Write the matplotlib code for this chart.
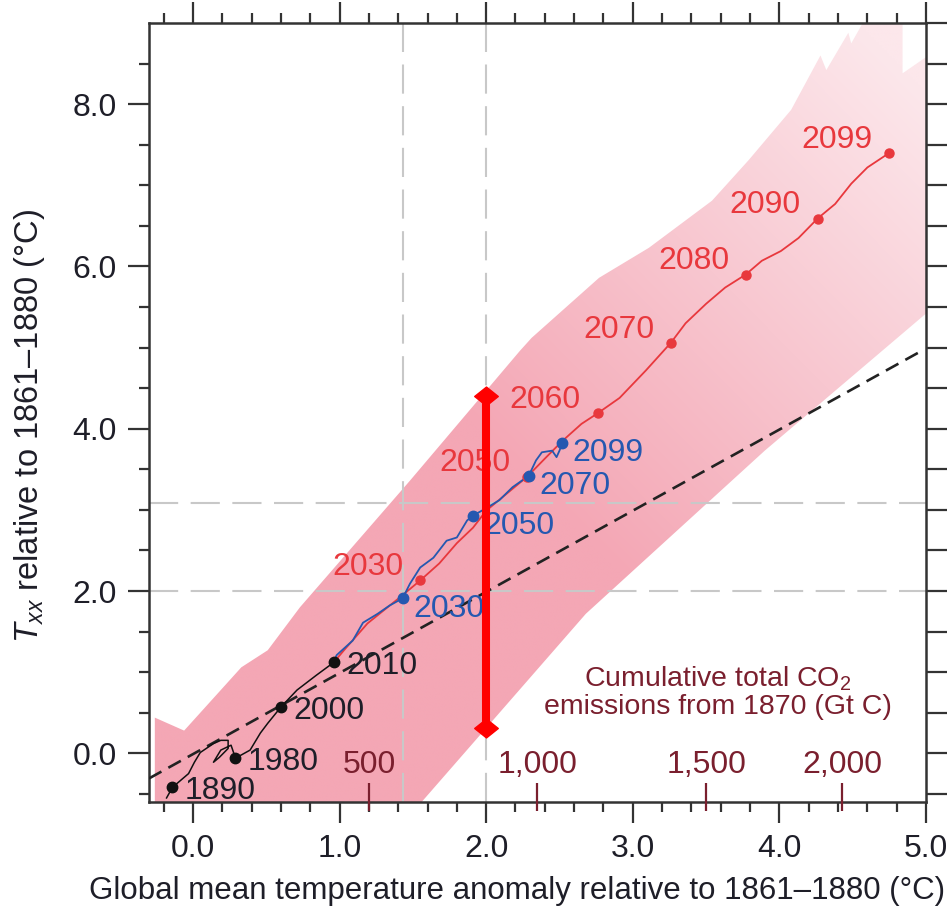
import numpy as np
import matplotlib
matplotlib.use("Agg")
import matplotlib.pyplot as plt
from matplotlib.patches import Polygon
from matplotlib.path import Path

plt.rcParams['font.family'] = ['Liberation Sans', 'DejaVu Sans']
plt.rcParams['mathtext.fontset'] = 'custom'
plt.rcParams['mathtext.rm'] = 'Liberation Sans'
plt.rcParams['mathtext.it'] = 'Liberation Sans:italic'

# --- data ------------------------------------------------------------------
# model spread band (upper edge left->right, then lower edge right->left)
band_x = [-0.26, -0.26, -0.06, 0.33, 0.51, 0.73, 1.48, 2.23, 2.31, 2.77, 3.11, 3.54,
          3.79, 4.08, 4.28, 4.32, 4.47, 4.49, 4.60, 4.84, 4.84, 5.00,
          5.00, 3.90, 2.68, 1.55]
band_y = [-0.62, 0.44, 0.28, 1.06, 1.27, 1.80, 3.36, 4.96, 5.12, 5.86, 6.23, 6.81,
          7.31, 7.93, 8.60, 8.42, 8.88, 8.75, 9.10, 9.10, 8.38, 8.58,
          5.42, 3.73, 1.72, -0.62]

# historical (black)
hist_x = [-0.18, -0.14, -0.03, 0.01, 0.05, 0.14, 0.19, 0.24, 0.24, 0.18, 0.14, 0.19,
          0.26, 0.29, 0.39, 0.46, 0.51, 0.60, 0.71, 0.84, 0.96]
hist_y = [-0.55, -0.42, -0.25, -0.11, 0.01, 0.12, 0.16, 0.16, 0.06, -0.05, -0.11, 0.04,
          0.10, -0.06, 0.04, 0.25, 0.37, 0.57, 0.78, 0.96, 1.12]
hist_years = ['1890', '1980', '2000', '2010']
hist_dot_x = [-0.14, 0.29, 0.60, 0.96]
hist_dot_y = [-0.42, -0.06, 0.57, 1.12]

# high-emission projection (red)
red_x = [0.96, 1.03, 1.19, 1.41, 1.55, 1.68, 1.80, 1.91, 2.00, 2.14, 2.28, 2.41, 2.52,
         2.65, 2.76, 2.91, 3.09, 3.26, 3.36, 3.50, 3.63, 3.77, 3.88, 4.01, 4.13, 4.26,
         4.38, 4.49, 4.60, 4.75]
red_y = [1.12, 1.27, 1.60, 1.92, 2.13, 2.34, 2.59, 2.78, 2.99, 3.20, 3.41, 3.65, 3.85,
         4.06, 4.19, 4.38, 4.72, 5.06, 5.30, 5.54, 5.74, 5.90, 6.07, 6.19, 6.35, 6.59,
         6.77, 7.02, 7.22, 7.40]
red_years = ['2030', '2050', '2060', '2070', '2080', '2090', '2099']
red_dot_x = [1.55, 2.28, 2.76, 3.26, 3.77, 4.26, 4.75]
red_dot_y = [2.13, 3.41, 4.19, 5.06, 5.90, 6.59, 7.40]

# mid-emission projection (blue)
blue_x = [0.96, 0.98, 1.09, 1.16, 1.26, 1.34, 1.43, 1.48, 1.55, 1.64, 1.73, 1.80, 1.87,
          1.91, 2.00, 2.09, 2.18, 2.29, 2.34, 2.38, 2.45, 2.48, 2.50, 2.52]
blue_y = [1.12, 1.21, 1.39, 1.61, 1.72, 1.82, 1.91, 2.09, 2.29, 2.41, 2.62, 2.66, 2.87,
          2.93, 3.02, 3.12, 3.28, 3.42, 3.61, 3.71, 3.73, 3.65, 3.73, 3.83]
blue_years = ['2030', '2050', '2070', '2099']
blue_dot_x = [1.43, 1.91, 2.29, 2.52]
blue_dot_y = [1.91, 2.93, 3.42, 3.83]

# reference line and guide lines
ref_x = [-0.30, 4.97]
ref_y = [-0.31, 4.96]
guide_vx = [1.43, 2.0]
guide_hy = [2.0, 3.08]

# highlighted range at 2 degrees
bar_x = 2.0
bar_y = [0.31, 4.40]

# cumulative CO2 emission scale
co2_labels = ['500', '1,000', '1,500', '2,000']
co2_pos = [1.20, 2.35, 3.50, 4.43]

# --- colours -----------------------------------------------------------------
RED = '#e8383d'
BLUE = '#2558b0'
MAROON = '#7a1f2e'
TXT = '#1e1e28'

fig = plt.figure(figsize=(9.53, 9.17), dpi=100)
ax = fig.add_axes([0.1563, 0.1254, 0.8154, 0.8495])
ax.set_xlim(-0.3, 5.0)
ax.set_ylim(-0.6, 9.0)

# band with fading gradient
poly = Polygon(np.column_stack([band_x, band_y]), closed=True,
               facecolor='none', edgecolor='none')
ax.add_patch(poly)
gx, gy = np.meshgrid(np.linspace(-0.3, 5.0, 300), np.linspace(-0.62, 9.1, 300))
t = 0.5 * (gx + 0.3) / 5.3 + 0.5 * (gy + 0.62) / 9.72
w = np.clip((t - 0.45) / 0.5, 0, 1)[..., None]
pink = np.array([244, 167, 181]) / 255
light = np.array([252, 231, 235]) / 255
rgb = pink * (1 - w) + light * w
img = ax.imshow(rgb, extent=[-0.3, 5.0, -0.62, 9.1], origin='lower',
                aspect='auto', zorder=1, interpolation='bilinear')
img.set_clip_path(poly)

# dashed guides
for gxv in guide_vx:
    ax.axvline(gxv, color='#c8c8c8', lw=1.5, dashes=(14, 6), zorder=2)
for gyv in guide_hy:
    ax.axhline(gyv, color='#c8c8c8', lw=1.5, dashes=(14, 6), zorder=2)

ax.plot(ref_x, ref_y, color='#222222', lw=1.9, dashes=(5.4, 3.0), zorder=3)

# trajectories
ax.plot(hist_x, hist_y, color='#111111', lw=1.1, zorder=4)
ax.plot(hist_dot_x, hist_dot_y, 'o', color='#111111', ms=7.5, zorder=5)
ax.plot(red_x, red_y, color=RED, lw=1.3, zorder=4)
ax.plot(red_dot_x, red_dot_y, 'o', color=RED, ms=6.5, zorder=5)
ax.plot(blue_x, blue_y, color=BLUE, lw=1.3, zorder=4)
ax.plot(blue_dot_x, blue_dot_y, 'o', color=BLUE, ms=7.5, zorder=6)

fs = 23
for lab, x, y in zip(hist_years, hist_dot_x, hist_dot_y):
    ax.annotate(lab, (x, y), xytext=(9, -2.5), textcoords='offset points',
                ha='left', va='center', fontsize=fs, color=TXT, zorder=7)
for lab, x, y in zip(red_years, red_dot_x, red_dot_y):
    ax.annotate(lab, (x, y), xytext=(-12, 9.5), textcoords='offset points',
                ha='right', va='center', fontsize=fs, color=RED, zorder=7)
for lab, x, y in zip(blue_years, blue_dot_x, blue_dot_y):
    ax.annotate(lab, (x, y), xytext=(7.5, -7.5), textcoords='offset points',
                ha='left', va='center', fontsize=fs, color=BLUE, zorder=7)

# CO2 secondary scale drawn inside the axes
ax.vlines(co2_pos, -0.71, -0.37, color=MAROON, lw=1.6, zorder=8, clip_on=False)
for lab, x in zip(co2_labels, co2_pos):
    ax.text(x, -0.14, lab, ha='center', va='center', fontsize=fs, color=MAROON, zorder=7)
ax.text(3.58, 0.75, 'Cumulative total CO$_2$\nemissions from 1870 (Gt C)',
        ha='center', va='center', fontsize=20.5, color=MAROON, linespacing=1.05, zorder=7)

# red range bar
diamond = Path([(-1, 0), (0, 0.8), (1, 0), (0, -0.8), (-1, 0)],
               [Path.MOVETO, Path.LINETO, Path.LINETO, Path.LINETO, Path.CLOSEPOLY])
ax.plot([bar_x, bar_x], bar_y, color='#ff0000', lw=5.8, marker=diamond, ms=17,
        solid_capstyle='butt', zorder=10, clip_on=False)

# axes styling
ax.set_xticks(np.arange(0, 5.01, 1.0))
ax.set_xticklabels([f'{v:.1f}' for v in np.arange(0, 5.01, 1.0)])
ax.set_xticks(np.arange(-0.2, 5.0, 0.2), minor=True)
ax.set_yticks(np.arange(0, 8.01, 2.0))
ax.set_yticklabels([f'{v:.1f}' for v in np.arange(0, 8.01, 2.0)])
ax.set_yticks(np.arange(-0.5, 9.0, 0.5), minor=True)
ax.tick_params(which='both', direction='out', top=True, right=False,
               width=1.6, color='#333333', labelsize=fs, labelcolor=TXT, pad=8)
ax.tick_params(which='major', length=15)
ax.tick_params(which='minor', length=7.5)
for sp in ax.spines.values():
    sp.set_linewidth(1.8)
    sp.set_color('#333333')

axr = ax.twinx()
axr.set_ylim(ax.get_ylim())
axr.set_yticks(np.arange(-0.5, 9.01, 0.5))
axr.tick_params(direction='out', length=15, width=1.6, color='#333333', labelright=False)
for sp in axr.spines.values():
    sp.set_visible(False)

ax.set_ylabel(r'$T_{xx}$ relative to 1861–1880 (°C)', fontsize=23.5, color=TXT)
ax.yaxis.label.set_va('center')
ax.yaxis.set_label_coords(-0.154, 0.483)
fig.text(0.5425, 1 - 891 / 917, 'Global mean temperature anomaly relative to 1861–1880 (°C)',
         ha='center', va='center', fontsize=22.5, color=TXT)

fig.savefig('out.png', dpi=100)
